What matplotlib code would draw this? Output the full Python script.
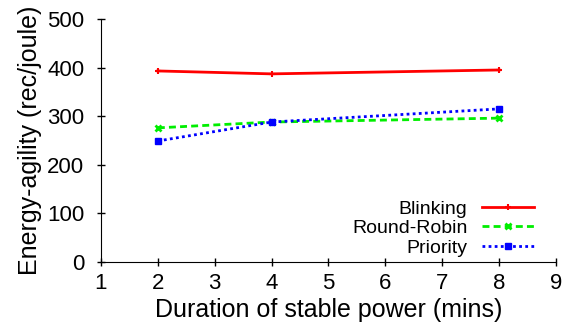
import matplotlib
matplotlib.use('Agg')

import matplotlib.pyplot as plt

# Values
durations = [2, 4, 8]
blinking = [393, 387, 395]
round_robin = [276, 288, 296]
priority = [249, 288, 315]

plt.rcParams['font.family'] = ['Liberation Sans', 'DejaVu Sans']
plt.rcParams['font.size'] = 16

fig = plt.figure(figsize=(5.69, 3.26), dpi=100)
ax = fig.add_axes([0.1775, 0.196, 0.7995, 0.746])

ax.plot(durations, blinking, color='#ff0000', linestyle='-', linewidth=2,
        marker='+', markersize=5, markeredgewidth=1.5, label='Blinking')
ax.plot(durations, round_robin, color='#00ee00', linestyle=(0, (2.5, 1.5)),
        linewidth=2, marker='x', markersize=5, markeredgewidth=2,
        label='Round-Robin')
ax.plot(durations, priority, color='#0000ff', linestyle=(0, (1, 1.2)),
        linewidth=2, marker='s', markersize=4.5, label='Priority')

ax.set_xlim(1, 9)
ax.set_ylim(0, 500)
ax.set_xticks(range(1, 10))
ax.set_yticks(range(0, 501, 100))
ax.set_xlabel('Duration of stable power (mins)', fontsize=18, labelpad=3)
ax.set_ylabel('Energy-agility (rec/joule)', fontsize=18, labelpad=4)

ax.spines['top'].set_visible(False)
ax.spines['right'].set_visible(False)
ax.tick_params(direction='inout', length=6, width=1, pad=5)
ax.tick_params(axis='y', pad=9)

ax.legend(loc='lower right', bbox_to_anchor=(0.97, -0.01), frameon=False,
          markerfirst=False, handlelength=2.7, handletextpad=0.75,
          labelspacing=0.1, fontsize=14, borderaxespad=0)

fig.savefig('out.png', dpi=100)
